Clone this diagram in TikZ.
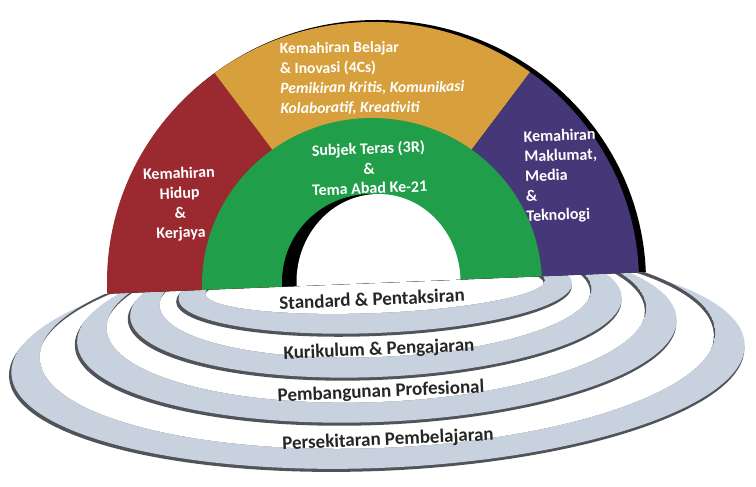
\documentclass[tikz,border=0pt]{standalone}
\usepackage{fontspec}
\setmainfont{Carlito}
\definecolor{archred}{RGB}{154,42,48}
\definecolor{archorange}{RGB}{216,160,60}
\definecolor{archpurple}{RGB}{70,55,120}
\definecolor{archgreen}{RGB}{32,158,74}
\definecolor{ringgray}{RGB}{200,210,222}
\definecolor{ringdark}{RGB}{80,84,90}
\begin{document}
\begin{tikzpicture}[x=1pt,y=1pt,
  archtxt/.style={text=white,font=\fontsize{16}{19.8}\selectfont\bfseries,inner sep=0pt,rotate=2},
  ringtxt/.style={text=black!85,font=\fontsize{19}{22}\selectfont\bfseries,inner sep=0pt,rotate=2.5}]
\useasboundingbox (0,0) rectangle (756,487);
% ---------------- rings ----------------
\begin{scope}[shift={(375,204)},rotate=2.3]
  \clip (-430,0) rectangle (430,-320);
  \foreach \cv/\a/\b/\ci/\ai/\bi in {-76/367/109/-62/338/103,-48/300/91/-35/270/84,-24/246/70/-14/216/60,-8/197/42/-4/170/26}{
    \fill[ringdark] (-1.5,{\cv-3}) ellipse [x radius=\a+1, y radius=\b];
    \fill[ringgray] (0,\cv) ellipse [x radius=\a, y radius=\b];
    \begin{scope}
      \clip (0,\ci) ellipse [x radius=\ai, y radius=\bi];
      \fill[ringdark] (0,\ci) ellipse [x radius=\ai, y radius=\bi];
      \fill[white] (-1.5,{\ci-3}) ellipse [x radius=\ai, y radius=\bi];
    \end{scope}
  }
\end{scope}
% ---------------- arch ----------------
\begin{scope}
  \clip[rotate around={2.3:(375,204)}] (-60,204) rectangle (820,520);
  \fill[black] (377,205) ellipse [x radius=269, y radius=262];
  \begin{scope}
    \clip (373,205) ellipse [x radius=266, y radius=260];
    \fill[archred] (372,205) -- +(200:420) -- +(127:420) -- cycle;
    \fill[archorange] (372,205) -- +(127:420) -- +(90:420) -- +(53:420) -- cycle;
    \fill[archpurple] (372,205) -- +(53:420) -- +(-20:420) -- cycle;
    \fill[archgreen] (372,202) ellipse [x radius=170, y radius=167];
    \fill[black] (371,205) ellipse [x radius=89, y radius=88];
    \fill[white] (378.5,205) ellipse [x radius=82, y radius=88];
  \end{scope}
\end{scope}
% ---------------- arch texts ----------------
\node[archtxt,align=center] (life) at (180,283) {Kemahiran\\Hidup\\\&\\Kerjaya};
\node[archtxt,rotate=-1.5,font=\fontsize{15.6}{20}\selectfont\bfseries,align=left,anchor=west] (learn) at (280,408) {Kemahiran Belajar\\\& Inovasi (4Cs)\\\textit{Pemikiran Kritis, Komunikasi}\\\textit{Kolaboratif, Kreativiti}};
\node[archtxt,align=left,anchor=west] (info) at (525,309.5) {Kemahiran\\Maklumat,\\Media\\\&\\Teknologi};
\node[archtxt,align=center] (core) at (369,319) {Subjek Teras (3R)\\\&\\Tema Abad Ke-21};
% ---------------- ring texts ----------------
\node[ringtxt] (std) at (372,188) {Standard \& Pentaksiran};
\node[ringtxt] (kur) at (379,137) {Kurikulum \& Pengajaran};
\node[ringtxt] (pro) at (381,95) {Pembangunan Profesional};
\node[ringtxt] (env) at (388,47) {Persekitaran Pembelajaran};
\end{tikzpicture}
\end{document}
